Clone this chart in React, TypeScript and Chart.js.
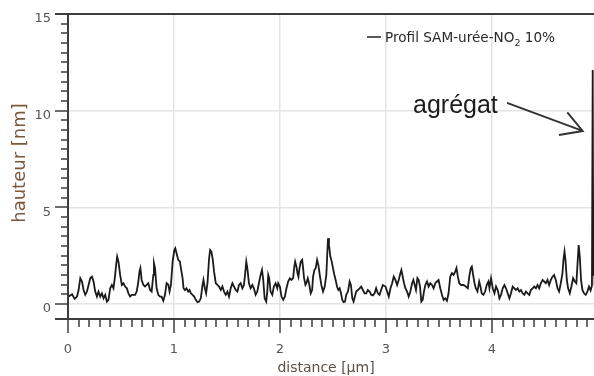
import React, { useEffect, useRef } from 'react';
import { Chart, registerables } from 'chart.js';

Chart.register(...registerables);

// ---- data ----
const distanceUm = [
  0.006, 0.038, 0.063, 0.085, 0.100, 0.116, 0.132, 0.147, 0.163, 0.179, 0.194, 0.210, 0.226, 0.241, 0.257, 0.273,
  0.288, 0.304, 0.320, 0.335, 0.351, 0.367, 0.382, 0.398, 0.414, 0.429, 0.445, 0.454, 0.464, 0.476, 0.492, 0.508,
  0.523, 0.539, 0.555, 0.570, 0.586, 0.602, 0.617, 0.633, 0.648, 0.664, 0.674, 0.683, 0.695, 0.711, 0.727, 0.742,
  0.758, 0.774, 0.789, 0.805, 0.811, 0.821, 0.836, 0.852, 0.868, 0.883, 0.899, 0.915, 0.930, 0.946, 0.958, 0.971,
  0.987, 1.003, 1.012, 1.024, 1.040, 1.056, 1.065, 1.081, 1.090, 1.103, 1.118, 1.134, 1.147, 1.159, 1.175, 1.190,
  1.206, 1.222, 1.237, 1.253, 1.269, 1.278, 1.291, 1.303, 1.316, 1.331, 1.341, 1.353, 1.366, 1.378, 1.394, 1.410,
  1.425, 1.441, 1.457, 1.472, 1.488, 1.504, 1.519, 1.535, 1.551, 1.566, 1.582, 1.598, 1.613, 1.629, 1.645, 1.660,
  1.673, 1.682, 1.692, 1.707, 1.723, 1.739, 1.754, 1.770, 1.786, 1.801, 1.817, 1.830, 1.842, 1.855, 1.870, 1.880,
  1.889, 1.898, 1.911, 1.927, 1.942, 1.958, 1.974, 1.983, 1.999, 2.014, 2.030, 2.046, 2.061, 2.077, 2.093, 2.108,
  2.124, 2.133, 2.143, 2.155, 2.165, 2.174, 2.184, 2.196, 2.209, 2.218, 2.227, 2.240, 2.249, 2.262, 2.274, 2.290,
  2.303, 2.312, 2.325, 2.337, 2.350, 2.362, 2.375, 2.390, 2.406, 2.422, 2.437, 2.447, 2.453, 2.462, 2.475, 2.488,
  2.500, 2.513, 2.525, 2.538, 2.550, 2.563, 2.575, 2.588, 2.600, 2.613, 2.625, 2.641, 2.657, 2.669, 2.682, 2.694,
  2.707, 2.719, 2.735, 2.751, 2.766, 2.782, 2.798, 2.813, 2.829, 2.845, 2.860, 2.876, 2.892, 2.907, 2.923, 2.939,
  2.954, 2.970, 2.995, 3.011, 3.026, 3.042, 3.058, 3.073, 3.089, 3.105, 3.120, 3.136, 3.145, 3.158, 3.170, 3.183,
  3.199, 3.214, 3.230, 3.246, 3.258, 3.271, 3.283, 3.296, 3.308, 3.321, 3.333, 3.346, 3.358, 3.371, 3.387, 3.402,
  3.418, 3.434, 3.449, 3.465, 3.481, 3.496, 3.512, 3.528, 3.543, 3.559, 3.575, 3.590, 3.606, 3.622, 3.637, 3.653,
  3.665, 3.678, 3.691, 3.709, 3.731, 3.753, 3.772, 3.788, 3.800, 3.810, 3.822, 3.835, 3.847, 3.863, 3.879, 3.891,
  3.903, 3.919, 3.935, 3.950, 3.966, 3.976, 3.991, 4.007, 4.023, 4.038, 4.054, 4.070, 4.085, 4.101, 4.117, 4.132,
  4.148, 4.164, 4.179, 4.195, 4.211, 4.226, 4.242, 4.258, 4.273, 4.289, 4.305, 4.320, 4.336, 4.352, 4.367, 4.383,
  4.398, 4.414, 4.430, 4.445, 4.461, 4.477, 4.492, 4.508, 4.524, 4.539, 4.555, 4.571, 4.586, 4.602, 4.618, 4.633,
  4.649, 4.665, 4.674, 4.684, 4.693, 4.706, 4.718, 4.734, 4.749, 4.765, 4.781, 4.796, 4.809, 4.818, 4.828, 4.840,
  4.853, 4.868, 4.884, 4.900, 4.915, 4.930, 4.943, 4.950, 4.955, 4.960, 4.968, 4.985, 5.000,
];

const heightNm = [
  0.38, 0.50, 0.26, 0.38, 0.72, 1.33, 1.16, 0.72, 0.47, 0.64, 0.98, 1.33, 1.41, 1.16, 0.64, 0.38,
  0.64, 0.38, 0.55, 0.29, 0.47, 0.12, 0.21, 0.81, 0.98, 0.81, 1.50, 2.02, 2.45, 2.19, 1.50, 0.98,
  1.07, 0.90, 0.81, 0.55, 0.38, 0.47, 0.47, 0.47, 0.64, 1.16, 1.67, 1.85, 1.24, 0.98, 0.90, 0.98,
  1.07, 0.72, 0.64, 1.50, 2.10, 1.85, 0.81, 0.47, 0.38, 0.38, 0.16, 0.47, 1.07, 1.00, 0.64, 0.98,
  2.19, 2.79, 2.88, 2.62, 2.28, 2.19, 1.85, 1.33, 0.81, 0.72, 0.81, 0.64, 0.72, 0.55, 0.47, 0.38,
  0.21, 0.09, 0.12, 0.29, 0.98, 1.24, 0.81, 0.55, 1.07, 2.36, 2.79, 2.71, 2.28, 1.67, 1.07, 0.98,
  0.90, 0.72, 0.90, 0.64, 0.47, 0.64, 0.38, 0.81, 1.07, 0.90, 0.72, 0.64, 0.98, 1.07, 0.81, 0.98,
  1.67, 2.19, 1.85, 1.07, 0.81, 0.98, 0.81, 0.47, 0.64, 1.07, 1.50, 1.76, 1.24, 0.29, 0.12, 0.64,
  1.50, 1.33, 0.64, 0.47, 0.90, 1.07, 0.81, 1.07, 0.90, 0.38, 0.21, 0.38, 0.81, 1.16, 1.33, 1.24,
  1.33, 1.85, 2.19, 1.93, 1.59, 1.41, 1.85, 2.19, 2.28, 1.85, 1.33, 0.98, 1.07, 1.33, 1.07, 0.55,
  0.72, 1.41, 1.76, 1.85, 2.28, 2.02, 1.50, 0.98, 0.64, 0.90, 1.50, 2.71, 3.40, 3.05, 2.45, 2.19,
  1.85, 1.50, 1.24, 0.90, 0.72, 0.81, 0.55, 0.21, 0.09, 0.12, 0.47, 0.64, 1.16, 0.98, 0.29, 0.12,
  0.38, 0.64, 0.72, 0.81, 0.90, 0.72, 0.55, 0.55, 0.72, 0.64, 0.47, 0.44, 0.55, 0.81, 0.55, 0.47,
  0.72, 0.98, 0.90, 0.64, 0.38, 0.81, 1.07, 1.41, 1.24, 0.98, 1.24, 1.59, 1.76, 1.41, 1.07, 0.81,
  0.64, 0.38, 0.64, 1.07, 1.24, 0.98, 0.72, 1.33, 1.24, 0.90, 0.12, 0.21, 0.64, 0.98, 1.16, 0.90,
  1.07, 0.98, 0.81, 1.07, 1.16, 1.24, 0.81, 0.47, 0.21, 0.29, 0.16, 0.55, 1.41, 1.59, 1.50, 1.67,
  1.85, 1.41, 1.07, 0.98, 0.98, 0.90, 0.81, 1.50, 1.85, 1.93, 1.50, 1.07, 0.81, 0.64, 1.16, 0.90,
  0.55, 0.47, 0.64, 0.98, 1.16, 0.81, 1.33, 0.81, 0.55, 0.90, 0.72, 0.29, 0.47, 0.81, 0.98, 0.81,
  0.55, 0.29, 0.55, 0.90, 0.81, 0.72, 0.81, 0.64, 0.72, 0.55, 0.47, 0.64, 0.55, 0.47, 0.72, 0.81,
  0.90, 0.81, 0.98, 0.81, 1.07, 1.24, 1.16, 1.07, 1.24, 0.98, 1.24, 1.41, 1.50, 1.24, 0.81, 0.64,
  1.07, 1.59, 2.28, 2.71, 2.28, 1.24, 0.81, 0.55, 0.90, 1.33, 1.16, 1.07, 2.28, 3.05, 2.45, 1.24,
  0.72, 0.55, 0.47, 0.64, 0.90, 0.70, 0.95, 12.10, 1.50, 5.40, 1.00, 0.80, 0.90,
];

const xTickValues = [0, 1, 2, 3, 4, 5];
const yTickValues = [0, 5, 10, 15];

const seriesName = 'Profil SAM-urée-NO';
const seriesSub = '2';
const seriesTail = ' 10%';
const xTitle = 'distance [µm]';
const yTitle = 'hauteur [nm]';
const noteText = 'agrégat';
// annotation anchors in data units
const noteTextAt = { x: 3.255, y: 9.88 };
const noteArrowFrom = { x: 4.142, y: 10.4 };
const noteArrowTo = { x: 4.855, y: 8.95 };

const AXIS = '#3d3d3d';
const GRID = '#e4e4e4';

const decoPlugin = {
  id: 'deco',
  afterDraw(chart: any) {
    const { ctx, chartArea: a, scales } = chart;
    const xs = scales.x;
    const ys = scales.y;
    ctx.save();
    // tick marks (major + minor)
    ctx.strokeStyle = AXIS;
    ctx.lineWidth = 1.5;
    ctx.beginPath();
    for (let i = 0; i <= 50; i++) {
      const px = Math.round(xs.getPixelForValue(i / 10));
      const len = i % 10 === 0 ? 14 : 8;
      ctx.moveTo(px, a.bottom);
      ctx.lineTo(px, a.bottom + len);
    }
    for (let i = 0; i <= 30; i++) {
      const py = Math.round(ys.getPixelForValue(i / 2));
      const len = i % 10 === 0 ? 13 : 7;
      ctx.moveTo(a.left, py);
      ctx.lineTo(a.left - len, py);
    }
    ctx.stroke();
    // frame lines
    ctx.lineWidth = 2;
    ctx.beginPath();
    ctx.moveTo(a.left - 13, a.top);
    ctx.lineTo(a.right, a.top);
    ctx.moveTo(a.left - 13, a.bottom);
    ctx.lineTo(a.left, a.bottom);
    ctx.stroke();

    // axis titles
    ctx.fillStyle = '#5b5148';
    ctx.font = '14px "DejaVu Sans"';
    ctx.textAlign = 'center';
    ctx.textBaseline = 'middle';
    ctx.fillText(xTitle, 326, 368);
    ctx.save();
    ctx.translate(20, 163);
    ctx.rotate(-Math.PI / 2);
    ctx.fillStyle = '#7a5a3e';
    ctx.font = '18px "DejaVu Sans"';
    ctx.fillText(yTitle, 0, 0);
    ctx.restore();

    // legend
    const lx = 367;
    const ly = 37;
    ctx.strokeStyle = '#222';
    ctx.lineWidth = 1.5;
    ctx.beginPath();
    ctx.moveTo(lx, ly);
    ctx.lineTo(lx + 14, ly);
    ctx.stroke();
    ctx.fillStyle = '#2a2a2a';
    ctx.textAlign = 'left';
    ctx.textBaseline = 'alphabetic';
    ctx.font = '13.6px "DejaVu Sans"';
    let tx = lx + 18;
    ctx.fillText(seriesName, tx, ly + 5);
    tx += ctx.measureText(seriesName).width;
    ctx.font = '9.5px "DejaVu Sans"';
    ctx.fillText(seriesSub, tx, ly + 9);
    tx += ctx.measureText(seriesSub).width;
    ctx.font = '13.6px "DejaVu Sans"';
    ctx.fillText(seriesTail, tx, ly + 5);

    // annotation
    ctx.fillStyle = '#1c1c1c';
    ctx.font = '25px "Liberation Sans"';
    ctx.fillText(noteText, xs.getPixelForValue(noteTextAt.x), ys.getPixelForValue(noteTextAt.y));
    const x1 = xs.getPixelForValue(noteArrowFrom.x);
    const y1 = ys.getPixelForValue(noteArrowFrom.y);
    const x2 = xs.getPixelForValue(noteArrowTo.x);
    const y2 = ys.getPixelForValue(noteArrowTo.y);
    const ang = Math.atan2(y2 - y1, x2 - x1);
    const hl = 24;
    const spread = (30 * Math.PI) / 180;
    ctx.strokeStyle = '#333';
    ctx.lineWidth = 2;
    ctx.beginPath();
    ctx.moveTo(x1, y1);
    ctx.lineTo(x2, y2);
    ctx.moveTo(x2 - hl * Math.cos(ang - spread), y2 - hl * Math.sin(ang - spread));
    ctx.lineTo(x2, y2);
    ctx.lineTo(x2 - hl * Math.cos(ang + spread), y2 - hl * Math.sin(ang + spread));
    ctx.stroke();
    ctx.restore();
  },
};

export default function App() {
  const ref = useRef<HTMLCanvasElement | null>(null);
  useEffect(() => {
    if (!ref.current) return;
    const chart = new Chart(ref.current, {
      type: 'line',
      data: {
        datasets: [
          {
            label: seriesName + seriesSub + seriesTail,
            data: distanceUm.map((x, i) => ({ x, y: heightNm[i] })),
            borderColor: '#1a1a1a',
            borderWidth: 1.8,
            pointRadius: 0,
            tension: 0,
            fill: false,
          },
        ],
      },
      options: {
        responsive: false,
        animation: false,
        devicePixelRatio: 1,
        layout: { padding: { left: 0, right: 12, top: 14, bottom: 0 } },
        plugins: { legend: { display: false }, tooltip: { enabled: false } },
        scales: {
          x: {
            type: 'linear',
            min: 0,
            max: 5,
            afterBuildTicks: (s: any) => {
              s.ticks = xTickValues.map((v) => ({ value: v }));
            },
            afterFit: (s: any) => {
              s.height = 57;
              s.paddingLeft = 0;
              s.paddingRight = 0;
            },
            grid: {
              drawTicks: false,
              lineWidth: 1.5,
              color: (c: any) => (c.tick && c.tick.value > 0 && c.tick.value < 5 ? GRID : 'rgba(0,0,0,0)'),
            },
            border: { color: AXIS, width: 2 },
            ticks: {
              padding: 23,
              color: '#555',
              font: { family: 'DejaVu Sans', size: 13 },
              callback: (v: any) => String(v),
            },
          },
          y: {
            type: 'linear',
            min: -0.78,
            max: 15,
            afterBuildTicks: (s: any) => {
              s.ticks = yTickValues.map((v) => ({ value: v }));
            },
            afterFit: (s: any) => {
              s.width = 68;
              s.paddingTop = 0;
              s.paddingBottom = 0;
            },
            grid: {
              drawTicks: false,
              lineWidth: 1.5,
              color: (c: any) => (c.tick && c.tick.value < 15 ? GRID : 'rgba(0,0,0,0)'),
            },
            border: { color: AXIS, width: 2 },
            ticks: {
              padding: 17,
              labelOffset: 5,
              color: '#555',
              font: { family: 'DejaVu Sans', size: 13 },
              callback: (v: any) => String(v),
            },
          },
        },
      },
      plugins: [decoPlugin],
    });
    return () => chart.destroy();
  }, []);

  return (
    <div style={{ position: 'absolute', left: 0, top: 0, width: 594, height: 376, overflow: 'hidden', background: '#fff' }}>
      <canvas ref={ref} width={610} height={376} style={{ display: 'block', width: 610, height: 376 }} />
    </div>
  );
}
